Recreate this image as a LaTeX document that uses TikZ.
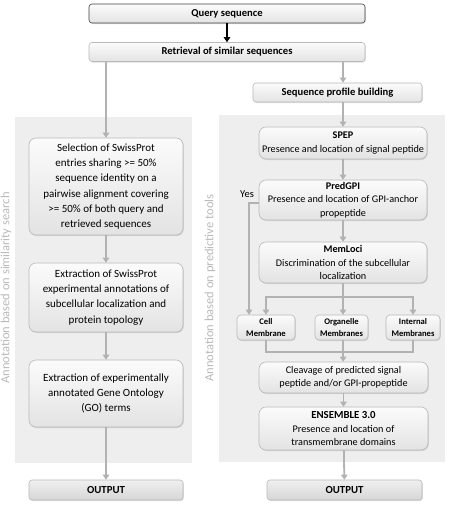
\documentclass[tikz,border=0pt]{standalone}
\usepackage{fontspec}
\setmainfont{Carlito}
\usepackage{tikz}
\usetikzlibrary{positioning}
\usetikzlibrary{shapes,arrows,calc,arrows.meta,shadows}

\begin{document}
\begin{tikzpicture}[x=1pt, y=-1pt,
  box/.style={draw=gray!55, line width=0.6pt, rounded corners=7pt, align=center,
    top color=gray!3, bottom color=gray!22, inner sep=1pt,
    drop shadow={shadow xshift=0.8pt, shadow yshift=-1pt, opacity=0.25},
    font=\fontsize{10.2}{13.5}\selectfont},
  leftbox/.style={box, minimum width=154pt, font=\fontsize{11}{15.2}\selectfont},
  rightbox/.style={box, minimum width=168pt},
  smallbox/.style={box, rounded corners=4pt, font=\fontsize{8.6}{11.6}\selectfont\bfseries},
  topbox/.style={box, rounded corners=3pt, minimum width=276pt, minimum height=19pt, font=\fontsize{10.6}{12}\selectfont\bfseries},
  outbox/.style={box, rounded corners=3pt, minimum height=20pt, top color=gray!12, bottom color=gray!32, font=\fontsize{10.8}{12}\selectfont\bfseries},
  panel/.style={fill=gray!13, draw=none},
  sidelabel/.style={rotate=90, text=gray!55, font=\fontsize{12.5}{14}\selectfont},
  arr/.style={draw=gray!60, line width=1.8pt, -{Triangle[width=6.5pt,length=5pt]}},
  line/.style={draw=gray!60, line width=1.8pt}]

  \useasboundingbox (0,0) rectangle (448,506);

  % Panels
  \fill[panel] (15,117) rectangle (192,463);
  \fill[panel] (219,115) rectangle (445,462);
  \node[sidelabel] (simlabel) at (6,288) {Annotation based on similarity search};
  \node[sidelabel] (predlabel) at (210,288) {Annotation based on predictive tools};

  % Nodes
  \node[topbox, draw=black!75] (query) at (227,13.5) {Query sequence};
  \node[topbox] (retr) at (227,52) {Retrieval of similar sequences};
  \node[topbox, minimum width=169pt] (prof) at (337.5,92.5) {Sequence profile building};

  \node[leftbox, minimum height=97pt] (sel) at (106,186.5) {Selection of SwissProt\\entries sharing >= 50\%\\sequence identity on a\\pairwise alignment covering\\>= 50\% of both query and\\retrieved sequences};
  \node[leftbox, minimum height=69pt] (ext) at (106,297.5) {Extraction of SwissProt\\experimental annotations of\\subcellular localization and\\protein topology};
  \node[leftbox, minimum height=67pt] (go) at (106,393.5) {Extraction of experimentally\\annotated Gene Ontology\\(GO) terms};
  \node[outbox, minimum width=154pt] (outl) at (106,490) {OUTPUT};

  \node[rightbox, minimum height=32pt] (spep) at (343,143) {\textbf{SPEP}\\Presence and location of signal peptide};
  \node[rightbox, minimum height=40pt] (pred) at (343,200) {\textbf{PredGPI}\\Presence and location of GPI-anchor\\propeptide};
  \node[rightbox, minimum height=41pt] (mem) at (343,262.5) {\textbf{MemLoci}\\Discrimination of\ the subcellular\\localization};
  \node[smallbox, minimum width=58pt, minimum height=25pt] (cell) at (266,327.5) {Cell\\Membrane};
  \node[smallbox, minimum width=53pt, minimum height=25pt] (org) at (341.5,327.5) {Organelle\\Membranes};
  \node[smallbox, minimum width=54pt, minimum height=25pt] (int) at (413,327.5) {Internal\\Membranes};
  \node[rightbox, minimum width=169pt, minimum height=31pt] (cleav) at (343.5,377.5) {Cleavage of predicted\ signal\\peptide and/or GPI-propeptide};
  \node[rightbox, minimum width=169pt, minimum height=43pt] (ens) at (343.5,428.5) {{\fontsize{10.8}{13}\selectfont\bfseries ENSEMBLE 3.0}\\Presence and location of\\transmembrane domains};
  \node[outbox, minimum width=155pt] (outr) at (344.5,490) {OUTPUT};

  \node[font=\fontsize{10.5}{12}\selectfont] (yes) at (247,194) {Yes};
  \coordinate (split) at (343,297);
  \coordinate (merge) at (343,352);

  % Arrows
  \draw[arr, draw=black, -{Triangle[width=6.5pt,length=5pt]}] (query) -- (retr);
  \draw[arr] (retr.south -| sel.north) -- (sel);
  \draw[arr] (sel) -- (ext);
  \draw[arr] (ext) -- (go);
  \draw[arr] (go) -- (outl);

  \draw[arr] (retr.south -| spep.north) -- (prof.north -| spep.north);
  \draw[arr] (prof.south -| spep.north) -- (spep);
  \draw[arr] (spep) -- (pred);
  \draw[arr] (pred) -- (mem);
  \draw[arr] ([yshift=-3pt]pred.west) -| ([xshift=-17pt]cell.north);
  \draw[line] (mem) -- (split);
  \draw[arr] (split) -| (cell.north);
  \draw[arr] (split) -| (int.north);
  \draw[arr] (split) -- (org.north -| split);
  \draw[line] (cell.south) |- (merge);
  \draw[line] (int.south) |- (merge);
  \draw[line] (org.south -| merge) -- (merge);
  \draw[arr] (merge) -- (cleav);
  \draw[arr] (cleav) -- (ens);
  \draw[arr] (ens) -- (outr);
\end{tikzpicture}
\end{document}
